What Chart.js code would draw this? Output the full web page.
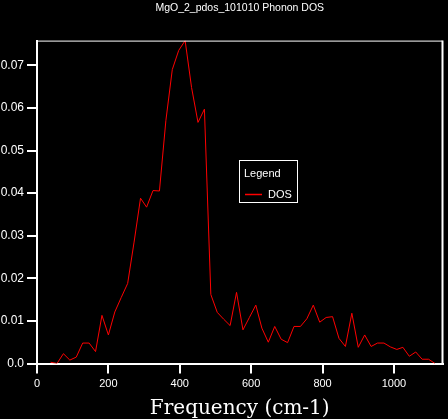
<!DOCTYPE html>
<html>
<head>
<meta charset="utf-8">
<script src="https://cdn.jsdelivr.net/npm/chart.js@4"></script>
<style>
  html, body { margin: 0; padding: 0; background: #000; }
  #wrap { width: 448px; height: 419px; }
</style>
</head>
<body>
<div id="wrap"><canvas id="dosChart" width="448" height="419"></canvas></div>
<script>
/* MgO phonon DOS */

const frequencies = [
  38, 56, 74, 92, 110, 128, 146, 164, 182, 200,
  218, 236, 254, 272, 290, 307, 325, 343, 361, 379,
  397, 415, 433, 451, 469, 487, 505, 523, 541, 559,
  577, 595, 613, 630, 648, 666, 684, 702, 720, 738,
  756, 774, 792, 810, 828, 846, 864, 882, 900, 918,
  936, 954, 972, 990, 1008, 1025, 1043, 1061, 1079, 1097,
  1115
];

const dosValues = [
  0.0003, 0.0, 0.0023, 0.0008, 0.0015, 0.0048, 0.0048, 0.0028, 0.0113, 0.0067,
  0.0121, 0.0155, 0.0188, 0.0285, 0.0388, 0.0367, 0.0406, 0.0405, 0.057, 0.069,
  0.0735, 0.0758, 0.0648, 0.0566, 0.0597, 0.0162, 0.012, 0.0104, 0.0089, 0.0167,
  0.0079, 0.0108, 0.0137, 0.0083, 0.005, 0.0087, 0.0057, 0.0049, 0.0087, 0.0087,
  0.0105, 0.0137, 0.0097, 0.0108, 0.011, 0.0059, 0.004, 0.0118, 0.0038, 0.0067,
  0.004, 0.0048, 0.0048, 0.0039, 0.0033, 0.0038, 0.0017, 0.0027, 0.001, 0.001,
  0.0
];

const xTicks = [0, 200, 400, 600, 800, 1000];
const yTicks = [0, 0.01, 0.02, 0.03, 0.04, 0.05, 0.06, 0.07];
const yTickLabels = ['0.0', '0.01', '0.02', '0.03', '0.04', '0.05', '0.06', '0.07'];

const ctx = document.getElementById('dosChart');

// top / right edges of the plot box
const frame = {
  id: 'frame',
  afterDraw(chart){
    const a = chart.chartArea;
    const c = chart.ctx;
    c.save();
    c.strokeStyle = '#fff';
    c.lineWidth = 1;
    c.beginPath();
    c.moveTo(a.left, a.top + 0.5);
    c.lineTo(a.right, a.top + 0.5);
    c.stroke();
    c.lineWidth = 2;
    c.beginPath();
    c.moveTo(a.right, a.top);
    c.lineTo(a.right, a.bottom);
    c.stroke();
    c.restore();
  }
};

// boxed legend floating in the plot
const legendBox = {
  id: 'legendBox',
  afterDraw(chart){
    const c = chart.ctx;
    const ds = chart.data.datasets[0];
    c.save();
    c.fillStyle = '#000';
    c.fillRect(239.5, 160.5, 58, 42);
    c.strokeStyle = '#fff';
    c.lineWidth = 1;
    c.strokeRect(239.5, 160.5, 58, 42);
    c.fillStyle = '#fff';
    c.font = '11px "Liberation Sans"';
    c.textBaseline = 'middle';
    c.textAlign = 'left';
    c.fillText('Legend', 244, 174);
    c.strokeStyle = ds.borderColor;
    c.lineWidth = 1.5;
    c.beginPath();
    c.moveTo(245, 194.5);
    c.lineTo(262, 194.5);
    c.stroke();
    c.fillText(ds.label, 268, 195);
    c.restore();
  }
};

const dosChart = new Chart(ctx, {
  type: 'line',
  data: {
    datasets: [{
      label: 'DOS',
      data: frequencies.map((f, i) => ({ x: f, y: dosValues[i] })),
      borderColor: '#ff0000',
      borderWidth: 1,
      pointRadius: 0,
      tension: 0,
      fill: false
    }]
  },
  options: {
    responsive: false,
    animation: false,
    devicePixelRatio: 1,
    layout: { padding: { left: 0, right: 5.5, top: 0, bottom: 0 } },
    plugins: {
      legend: { display: false },
      tooltip: { enabled: false },
      title: {
        display: true,
        fullSize: false,
        text: 'MgO_2_pdos_101010 Phonon DOS',
        color: '#fff',
        font: { family: 'Liberation Sans', size: 10.5, weight: 'normal' },
        padding: { top: 2, bottom: 26 }
      }
    },
    scales: {
      x: {
        type: 'linear',
        min: 0,
        max: 1136,
        afterBuildTicks: (scale) => { scale.ticks = xTicks.map(v => ({ value: v })); },
        afterFit: (scale) => { scale.height = 55.5; },
        grid: { display: true, drawOnChartArea: false, color: '#fff', tickColor: '#fff', lineWidth: 2, tickLength: 10 },
        border: { display: true, color: '#fff', width: 2 },
        ticks: {
          color: '#fff',
          padding: 4,
          maxRotation: 0,
          font: { family: 'Liberation Sans', size: 11 },
          callback: (v) => v.toString()
        },
        title: {
          display: true,
          text: 'Frequency (cm-1)',
          color: '#fff',
          padding: 0,
          font: { family: 'DejaVu Serif', size: 20, lineHeight: 1 }
        }
      },
      y: {
        min: 0,
        max: 0.0758,
        afterBuildTicks: (scale) => { scale.ticks = yTicks.map(v => ({ value: v })); },
        afterFit: (scale) => { scale.width = 37; },
        grid: { display: true, drawOnChartArea: false, color: '#fff', tickColor: '#fff', lineWidth: 2, tickLength: 10 },
        border: { display: true, color: '#fff', width: 2 },
        ticks: {
          color: '#fff',
          padding: 3,
          font: { family: 'Liberation Sans', size: 12 },
          callback: (v, i) => yTickLabels[i]
        }
      }
    }
  },
  plugins: [frame, legendBox]
});
</script>
</body>
</html>
